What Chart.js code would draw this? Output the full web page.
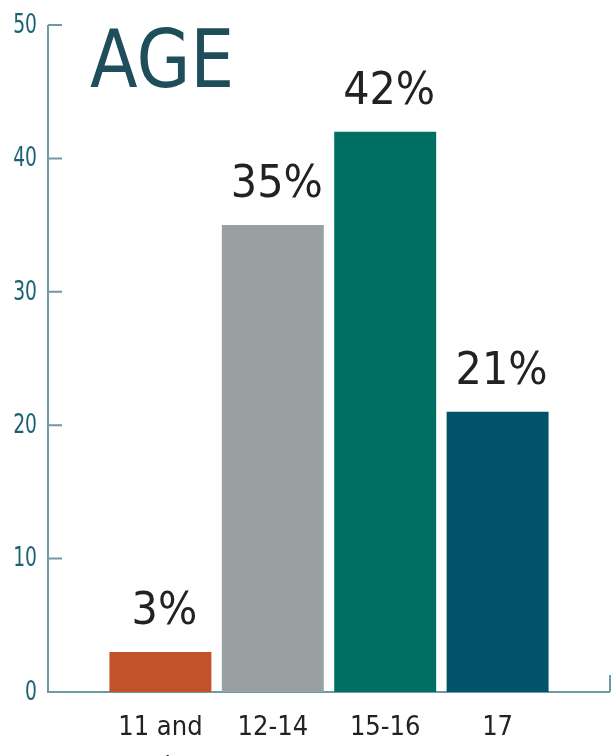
<!DOCTYPE html>
<html>
<head>
<meta charset="utf-8">
<script src="https://cdn.jsdelivr.net/npm/chart.js@4"></script>
<style>
  html, body { margin: 0; padding: 0; background: #fff; }
  #wrap { width: 612px; height: 756px; }
</style>
</head>
<body>
<div id="wrap"><canvas id="chart"></canvas></div>
<script>
const categories = ['11 and under', '12-14', '15-16', '17'];
const shares = [3, 35, 42, 21];
const valueLabels = ['3%', '35%', '42%', '21%'];
const yTicks = [0, 10, 20, 30, 40, 50];
const barColors = ['#c25229', '#99a0a1', '#006f63', '#00536a'];
const chartTitle = 'AGE';

const AXIS = '#6c9aa5';
const FONT = '"DejaVu Sans", sans-serif';
const FONT_NARROW = '"DejaVu Sans Condensed", "DejaVu Sans", sans-serif';

// one empty slot on each end, so the bars sit on positions 1..4
const labels = ['', ...categories, ''];
const data = [null, ...shares, null];
const colors = ['#fff', ...barColors, '#fff'];

function squeezed(ctx, text, x, y, sx) {
  ctx.save();
  ctx.translate(x, y);
  ctx.scale(sx, 1);
  ctx.fillText(text, 0, 0);
  ctx.restore();
}

function wrap(ctx, text, maxWidth) {
  const words = text.split(' ');
  const lines = [];
  let line = '';
  words.forEach(w => {
    const test = line ? line + ' ' + w : w;
    if (line && ctx.measureText(test).width > maxWidth) {
      lines.push(line);
      line = w;
    } else {
      line = test;
    }
  });
  lines.push(line);
  return lines;
}

const axes = {
  id: 'axes',
  beforeDatasetsDraw(chart) {
    const { ctx, chartArea, scales: { y } } = chart;
    const left = chartArea.left, right = chartArea.right;
    const base = y.getPixelForValue(0);
    ctx.save();
    ctx.strokeStyle = AXIS;
    ctx.lineWidth = 2;
    ctx.beginPath();
    ctx.moveTo(left, y.getPixelForValue(yTicks[yTicks.length - 1]));
    ctx.lineTo(left, base);
    ctx.lineTo(right, base);
    ctx.moveTo(right, base);
    ctx.lineTo(right, base - 17);
    yTicks.forEach(v => {
      const py = y.getPixelForValue(v);
      ctx.moveTo(left, py);
      ctx.lineTo(left + 14, py);
    });
    ctx.stroke();

    // y tick labels
    ctx.fillStyle = '#1a6272';
    ctx.font = '26px ' + FONT;
    ctx.textAlign = 'right';
    ctx.textBaseline = 'middle';
    yTicks.forEach(v => squeezed(ctx, String(v), left - 11, y.getPixelForValue(v) + 1, 0.72));
    ctx.restore();
  },
  afterDatasetsDraw(chart) {
    const { ctx, chartArea, scales: { x, y } } = chart;
    ctx.save();

    // category labels under the axis
    ctx.fillStyle = '#222';
    ctx.font = '27px ' + FONT_NARROW;
    ctx.textAlign = 'center';
    ctx.textBaseline = 'alphabetic';
    categories.forEach((c, i) => {
      const px = x.getPixelForValue(i + 1);
      wrap(ctx, c, 100).forEach((ln, k) => ctx.fillText(ln, px, chartArea.bottom + 43 + k * 40));
    });

    // percentages over the bars
    ctx.font = '45px ' + FONT;
    shares.forEach((v, i) => {
      squeezed(ctx, valueLabels[i], x.getPixelForValue(i + 1) + 4, y.getPixelForValue(v) - 28, 0.92);
    });

    // title inside the plot
    ctx.fillStyle = '#1f4e5b';
    ctx.font = '80px ' + FONT;
    ctx.textAlign = 'left';
    squeezed(ctx, chartTitle, 90, 87, 0.87);
    ctx.restore();
  }
};

new Chart(document.getElementById('chart'), {
  type: 'bar',
  data: {
    labels,
    datasets: [{
      data,
      backgroundColor: colors,
      borderWidth: 0,
      categoryPercentage: 1,
      barPercentage: 0.907
    }]
  },
  options: {
    responsive: true,
    maintainAspectRatio: false,
    animation: false,
    devicePixelRatio: 1,
    layout: { padding: { left: 48, right: 2, top: 25, bottom: 64 } },
    plugins: { legend: { display: false }, tooltip: { enabled: false } },
    scales: {
      x: { display: false, offset: false },
      y: { display: false, min: 0, max: 50 }
    }
  },
  plugins: [axes]
});
</script>
</body>
</html>
